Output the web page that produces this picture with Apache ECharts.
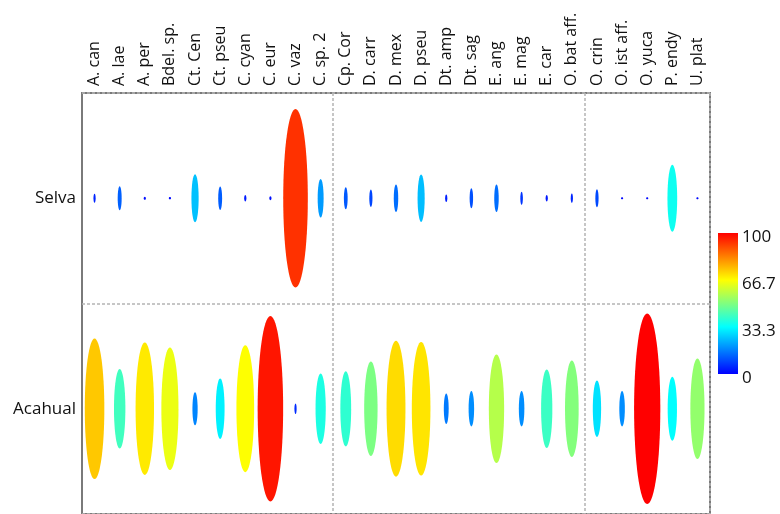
<!DOCTYPE html>
<html>
<head>
<meta charset="utf-8">
<script src="https://cdn.jsdelivr.net/npm/echarts@6/dist/echarts.min.js"></script>
<style>html,body{margin:0;padding:0;background:#fff;}#c{width:780px;height:514px;}</style>
</head>
<body>
<div id="c"></div>
<script>
const categories = ['A. can','A. lae','A. per','Bdel. sp.','Ct. Cen','Ct. pseu','C. cyan','C. eur','C. vaz','C. sp. 2',
  'Cp. Cor','D. carr','D. mex','D. pseu','Dt. amp','Dt. sag','E. ang','E. mag','E. car','O. bat aff.',
  'O. crin','O. ist aff.','O. yuca','P. endy','U. plat'];
const rows = ['Selva','Acahual'];
const selva = [4.7,12.5,1.7,1.2,25.2,12.2,3.5,2.0,93.6,20.3,11.6,9.2,14.4,24.8,4.0,10.4,14.4,6.9,3.3,4.9,9.5,1.0,1.0,35.1,1.0];
const acahual = [73.8,41.7,69.4,64.2,17.4,31.6,66.5,97.2,5.6,37.0,39.4,49.5,71.2,70.1,16.0,18.6,57.0,18.6,41.1,50.5,29.5,18.6,100,33.5,52.6];
const colorbarTicks = [0, 33.3, 66.7, 100];
const jet = ['#0000ff','#00ffff','#ffff00','#ff0000'];

const data = [];
[selva, acahual].forEach(function (arr, r) {
  arr.forEach(function (v, i) { data.push([i, r, v]); });
});

const chart = echarts.init(document.getElementById('c'), null, {renderer: 'canvas'});
const FONT = 'Open Sans';
chart.setOption({
  backgroundColor: '#ffffff',
  animation: false,
  grid: [
    {left: 82, top: 93, width: 628, height: 424, show: true, borderColor: '#7a7a7a', borderWidth: 2, backgroundColor: 'transparent'},
    {left: 718, top: 233, width: 20, height: 141},
    {left: 718, top: 237, width: 20, height: 141}
  ],
  xAxis: [
    {type: 'category', data: categories, position: 'top', gridIndex: 0,
     axisLine: {show: false}, axisTick: {show: false},
     axisLabel: {rotate: -90, interval: 0, margin: 7, fontFamily: FONT, fontSize: 16, color: '#111'},
     splitLine: {show: true, interval: function (idx) { return idx === 10 || idx === 20; },
       lineStyle: {color: '#b4b4b4', width: 1.5, type: [3, 2]}}},
    {type: 'category', data: ['cb'], gridIndex: 1, show: false},
    {type: 'category', data: ['cb'], gridIndex: 2, show: false}
  ],
  yAxis: [
    {type: 'category', data: rows, inverse: true, gridIndex: 0,
     axisLine: {show: false}, axisTick: {show: false},
     axisLabel: {margin: 6, fontFamily: FONT, fontSize: 17, color: '#111'},
     splitLine: {show: true, interval: 0, lineStyle: {color: '#b4b4b4', width: 1.5, type: [3, 2]}}},
    {type: 'value', gridIndex: 1, min: 0, max: 100, show: false},
    {type: 'value', gridIndex: 2, min: 0, max: 100, interval: 100 / 3, position: 'right',
     axisLine: {show: false}, axisTick: {show: false}, splitLine: {show: false},
     axisLabel: {margin: 4, fontFamily: FONT, fontSize: 17, color: '#111',
       formatter: function (v) {
         let best = colorbarTicks[0];
         colorbarTicks.forEach(function (t) { if (Math.abs(t - v) < Math.abs(best - v)) best = t; });
         return String(best);
       }}}
  ],
  visualMap: {show: false, type: 'continuous', min: 0, max: 100, dimension: 2, seriesIndex: 0,
    inRange: {color: jet}},
  series: [
    {type: 'custom', xAxisIndex: 0, yAxisIndex: 0, data: data, clip: false,
     renderItem: function (params, api) {
       const c = api.coord([api.value(0), api.value(1)]);
       const band = api.size([0, 1])[1];
       const ry = api.value(2) / 100 * band * 0.906 / 2;
       const rx = Math.max(ry / 7.5 + 0.4, 1.1);
       return {type: 'ellipse', shape: {cx: c[0], cy: c[1], rx: rx, ry: Math.max(ry, 1.1)},
         style: {fill: api.visual('color')}};
     }},
    {type: 'bar', xAxisIndex: 1, yAxisIndex: 1, data: [colorbarTicks[colorbarTicks.length - 1]], barWidth: '100%', silent: true,
     itemStyle: {color: new echarts.graphic.LinearGradient(0, 1, 0, 0, [
       {offset: 0, color: jet[0]}, {offset: 1 / 3, color: jet[1]}, {offset: 2 / 3, color: jet[2]}, {offset: 1, color: jet[3]}])}}
  ]
});
</script>
</body>
</html>
